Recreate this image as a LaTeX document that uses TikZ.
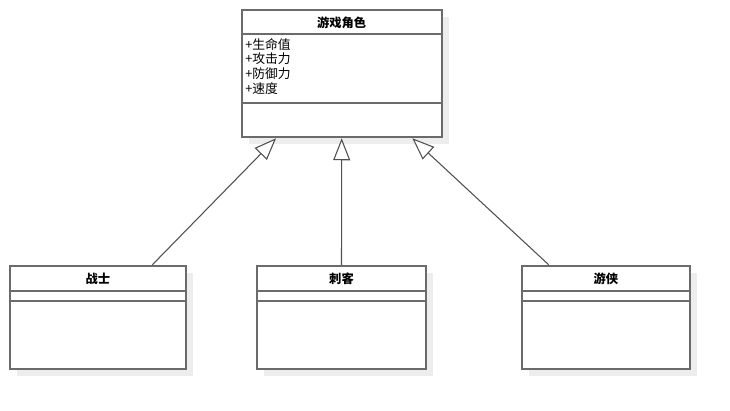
\documentclass[tikz,border=0pt]{standalone}
\usepackage{fontspec}
\setmainfont{Noto Sans CJK SC}
\usetikzlibrary{arrows.meta,calc}
\definecolor{boxline}{HTML}{6B6B6B}
\definecolor{shadowc}{HTML}{EDEDED}
\definecolor{conn}{HTML}{505050}
\tikzset{
  px/.style={x=0.75pt,y=-0.75pt},
  classbox/.style={draw=boxline,line width=1.4pt,fill=white,inner sep=0pt,rectangle},
  sepline/.style={draw=boxline,line width=1.4pt},
  inherit/.style={draw=conn,line width=0.8pt,-{Triangle[length=16.5pt,width=12.75pt,fill=white,line width=0.8pt]}},
  title/.style={font=\fontsize{9.2pt}{11pt}\selectfont\bfseries,inner sep=0pt},
  attrs/.style={font=\fontsize{9.6pt}{11pt}\selectfont,inner sep=0pt,align=left,anchor=north west},
}
\begin{document}
\begin{tikzpicture}[px]
\useasboundingbox (0,0) rectangle (730,410);
% shadows
\fill[shadowc] (248.7,17) rectangle (448.7,144.3);
\fill[shadowc] (17,272.7) rectangle (192.7,376.3);
\fill[shadowc] (264.3,273) rectangle (432.7,376.3);
\fill[shadowc] (528.7,272.7) rectangle (697,376.3);
% boxes
\node[classbox,minimum width=150pt,minimum height=95.5pt] (game) at (341.7,73.65) {};
\node[classbox,minimum width=131.8pt,minimum height=77.7pt] (warrior) at (97.85,317.5) {};
\node[classbox,minimum width=126.3pt,minimum height=77.7pt] (assassin) at (341.5,317.5) {};
\node[classbox,minimum width=126.2pt,minimum height=77.7pt] (ranger) at (605.85,317.5) {};
% separators
\draw[sepline] (241.7,34.3) -- (441.7,34.3);
\draw[sepline] (241.7,102.7) -- (441.7,102.7);
\draw[sepline] (10,290.7) -- (185.7,290.7);
\draw[sepline] (10,300.7) -- (185.7,300.7);
\draw[sepline] (257.3,290.7) -- (425.7,290.7);
\draw[sepline] (257.3,300.7) -- (425.7,300.7);
\draw[sepline] (521.7,290.7) -- (690,290.7);
\draw[sepline] (521.7,300.7) -- (690,300.7);
% texts
\node[title] (gameT) at (341.7,22.5) {游戏角色};
\node[attrs] (gameA) at (245,38) {+生命值\\+攻击力\\+防御力\\+速度};
\node[title] (warriorT) at (97.85,278.5) {战士};
\node[title] (assassinT) at (341.5,278.5) {刺客};
\node[title] (rangerT) at (605.85,278.5) {游侠};
% inheritance
\draw[inherit] ($(warrior.north west)!0.807!(warrior.north east)$) -- ($(game.south west)!0.175!(game.south east)$);
\draw[inherit] (assassin.north) -- (game.south);
\draw[inherit] ($(ranger.north west)!0.164!(ranger.north east)$) -- ($(game.south west)!0.85!(game.south east)$);
\end{tikzpicture}
\end{document}
